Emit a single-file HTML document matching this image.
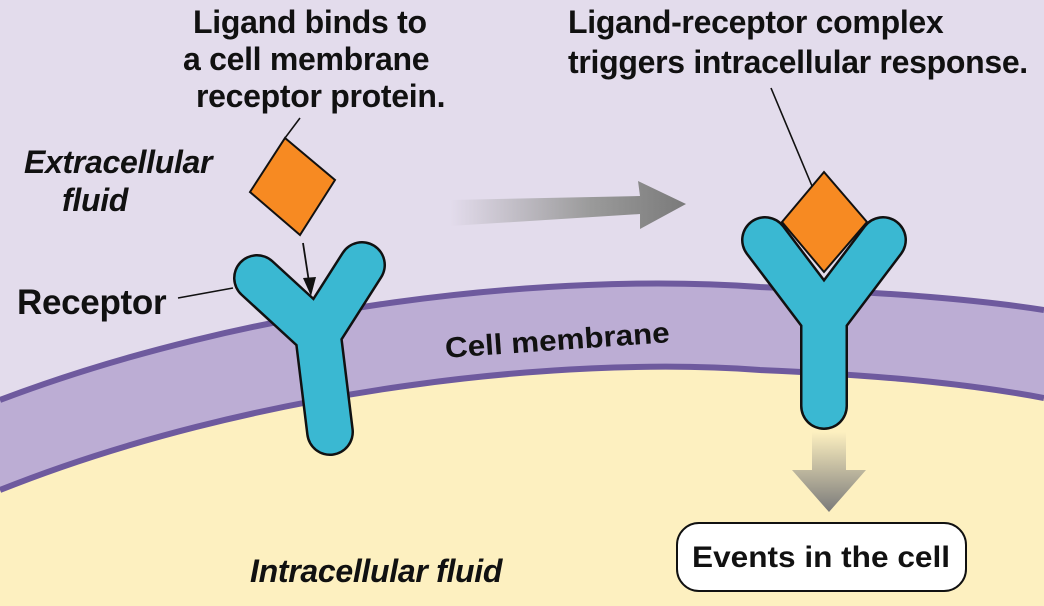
<!DOCTYPE html>
<html><head><meta charset="utf-8"><style>
html,body{margin:0;padding:0;}
body{width:1044px;height:606px;overflow:hidden;background:#e3dcec;position:relative;font-family:"Liberation Sans",Arial,sans-serif;}
svg{position:absolute;left:0;top:0;}
.t{position:absolute;color:#111;font-size:32px;font-weight:bold;white-space:nowrap;line-height:37px;letter-spacing:-0.3px;}
</style></head><body>
<svg width="1044" height="606" viewBox="0 0 1044 606">
<defs>
<linearGradient id="ga" x1="0" x2="1" y1="0" y2="0"><stop offset="0" stop-color="#e3dcec"/><stop offset="0.6" stop-color="#9a9a9a"/><stop offset="1" stop-color="#7a7a7a"/></linearGradient>
<linearGradient id="gd" x1="0" x2="0" y1="0" y2="1"><stop offset="0" stop-color="#fdf0c0"/><stop offset="1" stop-color="#7a7a7a"/></linearGradient>
</defs>
<path d="M0,400 C250,305 550,272 760,287 C900,293 980,300 1044,310 L1044,606 L0,606 Z" fill="#bcadd4"/>
<path d="M0,490 C250,390 560,355 760,370 C900,376 980,386 1044,398 L1044,606 L0,606 Z" fill="#fdf0c0"/>
<path d="M0,400 C250,305 550,272 760,287 C900,293 980,300 1044,310" fill="none" stroke="#6e5a9e" stroke-width="6"/>
<path d="M0,490 C250,390 560,355 760,370 C900,376 980,386 1044,398" fill="none" stroke="#6e5a9e" stroke-width="6"/>
<path d="M450,200 L640,196 L638,181 L686,204 L640,229 L640,214 L450,226 Z" fill="url(#ga)"/>
<path d="M812,432 L846,432 L846,470 L866,470 L829,512 L792,470 L812,470 Z" fill="url(#gd)"/>
<g stroke-linecap="round" stroke-linejoin="round" fill="none">
<path d="M257,278 L318,334 L362,265 M318,334 L330,432" stroke="#111" stroke-width="48"/>
<path d="M257,278 L318,334 L362,265 M318,334 L330,432" stroke="#3ab8d2" stroke-width="43"/>
<path d="M765,240 L824,318 L883,240 M824,318 L824,406" stroke="#111" stroke-width="48"/>
<path d="M765,240 L824,318 L883,240 M824,318 L824,406" stroke="#3ab8d2" stroke-width="43"/>
</g>
<polygon points="285,138 335,180 300,235 250,192" fill="#f78a22" stroke="#111" stroke-width="2"/>
<polygon points="824,172 867,222 824,272 782,222" fill="#f78a22" stroke="#111" stroke-width="2"/>
<line x1="285" y1="138" x2="300" y2="118" stroke="#111" stroke-width="1.6"/>
<line x1="812" y1="186" x2="771" y2="88" stroke="#111" stroke-width="1.6"/>
<line x1="178" y1="298" x2="233" y2="288" stroke="#111" stroke-width="1.6"/>
<line x1="303" y1="243" x2="309" y2="282" stroke="#111" stroke-width="1.8"/>
<polygon points="303,278 316,277 311,296" fill="#111"/>
<rect x="677" y="523" width="289" height="68" rx="22" fill="#fff" stroke="#111" stroke-width="2"/>
<text x="821" y="567" text-anchor="middle" font-family="Liberation Sans" font-weight="bold" font-size="30" fill="#111" textLength="258" lengthAdjust="spacingAndGlyphs">Events in the cell</text>
<text transform="translate(558,350) rotate(-4)" text-anchor="middle" font-family="Liberation Sans" font-weight="bold" font-size="29" fill="#111" textLength="225" lengthAdjust="spacingAndGlyphs">Cell membrane</text>
</svg>
<div class="t" style="left:193px;top:4px;">Ligand binds to</div>
<div class="t" style="left:183px;top:41px;">a cell membrane</div>
<div class="t" style="left:196px;top:78px;">receptor protein.</div>
<div class="t" style="left:568px;top:4px;">Ligand-receptor complex</div>
<div class="t" style="left:568px;top:44px;">triggers intracellular response.</div>
<div class="t" style="left:24px;top:144px;font-style:italic;">Extracellular</div>
<div class="t" style="left:62px;top:182px;font-style:italic;">fluid</div>
<div class="t" style="left:17px;top:284px;font-size:35px;">Receptor</div>
<div class="t" style="left:250px;top:553px;font-style:italic;">Intracellular fluid</div>
</body></html>
